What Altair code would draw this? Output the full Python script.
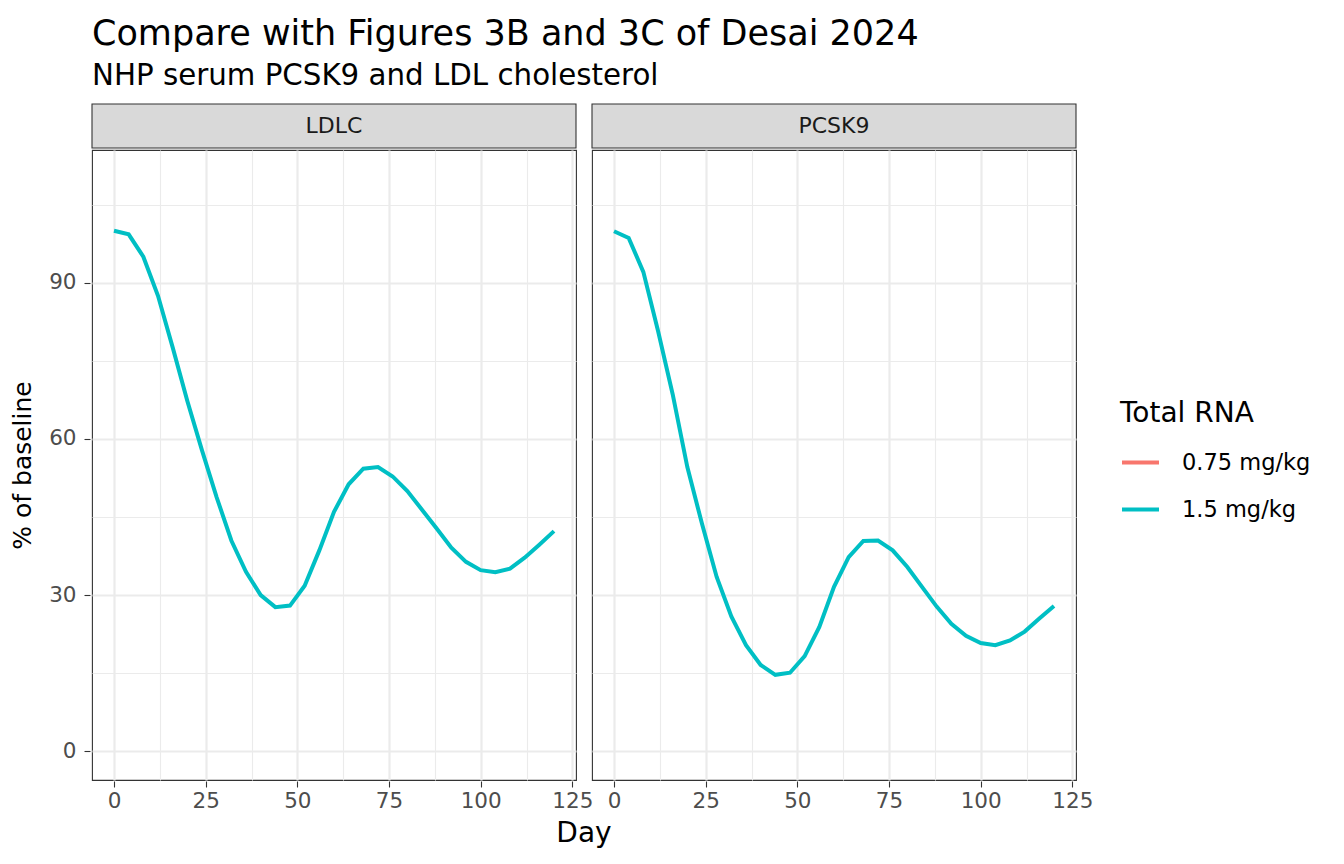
import altair as alt
import pandas as pd

days = list(range(0, 121, 4))
ldlc_15 = [100.0, 99.3, 95.0, 87.5, 77.6, 67.3, 57.8, 48.8, 40.5, 34.5, 30.0, 27.7,
           28.0, 31.8, 38.6, 46.0, 51.3, 54.3, 54.6, 52.8, 50.0, 46.4, 42.8, 39.1,
           36.4, 34.8, 34.4, 35.1, 37.2, 39.7, 42.3]
pcsk9_15 = [99.9, 98.6, 92.1, 80.8, 68.6, 54.6, 43.7, 33.5, 25.9, 20.4, 16.6, 14.7,
            15.1, 18.3, 23.9, 31.6, 37.3, 40.4, 40.5, 38.6, 35.4, 31.6, 27.8, 24.5,
            22.2, 20.8, 20.4, 21.3, 23.0, 25.5, 27.9]
panels = ["LDLC", "PCSK9"]
doses = ["0.75 mg/kg", "1.5 mg/kg"]
dose_colors = ["#F8766D", "#00BFC4"]
x_ticks = [0, 12.5, 25, 37.5, 50, 62.5, 75, 87.5, 100, 112.5, 125]
y_ticks = [0, 15, 30, 45, 60, 75, 90, 105]

rows = []
for p, vals in zip(panels, [ldlc_15, pcsk9_15]):
    for d, v in zip(days, vals):
        rows.append({"panel": p, "dose": doses[1], "day": d, "pct": v})
df = pd.DataFrame(rows)

W, H = 484, 630
FONT = "DejaVu Sans"

line = alt.Chart().mark_line(strokeWidth=4, clip=True).encode(
    x=alt.X("day:Q", title=None,
            scale=alt.Scale(domain=[-6, 126], nice=False, zero=False),
            axis=alt.Axis(values=x_ticks,
                          labelExpr="datum.value % 25 === 0 ? datum.label : ''",
                          gridColor="#EBEBEB",
                          gridWidth={"condition": {"test": "datum.value % 25 === 0", "value": 2.2}, "value": 1.1},
                          tickOpacity={"condition": {"test": "datum.value % 25 === 0", "value": 1}, "value": 0},
                          tickColor="#333333", tickWidth=1.1, tickSize=6,
                          labelColor="#4D4D4D", labelFontSize=21.5, labelPadding=3,
                          labelFont=FONT, domain=False)),
    y=alt.Y("pct:Q", title="% of baseline",
            scale=alt.Scale(domain=[-5.5, 115.5], nice=False, zero=False),
            axis=alt.Axis(values=y_ticks,
                          labelExpr="datum.value % 30 === 0 ? datum.label : ''",
                          gridColor="#EBEBEB",
                          gridWidth={"condition": {"test": "datum.value % 30 === 0", "value": 2.2}, "value": 1.1},
                          tickOpacity={"condition": {"test": "datum.value % 30 === 0", "value": 1}, "value": 0},
                          tickColor="#333333", tickWidth=1.1, tickSize=6,
                          labelColor="#4D4D4D", labelFontSize=21.5, labelPadding=8,
                          labelFont=FONT, domain=False,
                          titleFontSize=25, titleFont=FONT, titleFontWeight="normal",
                          titleColor="black", titlePadding=13)),
    color=alt.Color("dose:N",
                    scale=alt.Scale(domain=doses, range=dose_colors),
                    legend=alt.Legend(title="Total RNA", orient="none",
                                      legendX=1028, legendY=250,
                                      symbolType="stroke", symbolSize=1369,
                                      symbolStrokeWidth=4,
                                      titleFontSize=28, titleFont=FONT,
                                      titleFontWeight="normal", titleColor="black",
                                      labelFontSize=22.5, labelFont=FONT,
                                      labelColor="black", rowPadding=15,
                                      labelOffset=21, titlePadding=14)),
)

strip_rect = alt.Chart().mark_rect(fill="#D9D9D9", stroke="#333333", strokeWidth=1.1).encode(
    x=alt.value(0), x2=alt.value(W), y=alt.value(-46), y2=alt.value(-2)
).transform_filter("datum.day == 0")

strip_text = alt.Chart().mark_text(fontSize=22, color="#1A1A1A", font=FONT).encode(
    x=alt.value(W / 2), y=alt.value(-24), text="panel:N"
).transform_filter("datum.day == 0")

chart = alt.layer(strip_rect, strip_text, line, data=df).properties(
    width=W, height=H
).facet(
    column=alt.Column("panel:N", title="Day",
                      header=alt.Header(labels=False, titleOrient="bottom",
                                        titleFontSize=28, titleFont=FONT,
                                        titleFontWeight="normal", titleColor="black",
                                        titlePadding=-2)),
    spacing=12,
).properties(
    title=alt.TitleParams(
        "Compare with Figures 3B and 3C of Desai 2024",
        subtitle="NHP serum PCSK9 and LDL cholesterol",
        anchor="start", frame="group", fontSize=35, subtitleFontSize=29.3,
        font=FONT, subtitleFont=FONT, fontWeight="normal",
        color="black", subtitleColor="black", offset=12, subtitlePadding=10),
    padding={"left": 2, "top": 8, "right": 5, "bottom": 5},
    background="white",
).configure_view(stroke="#333333", strokeWidth=1.1)

chart.save("out.html", embed_options={"renderer": "svg", "actions": False})
